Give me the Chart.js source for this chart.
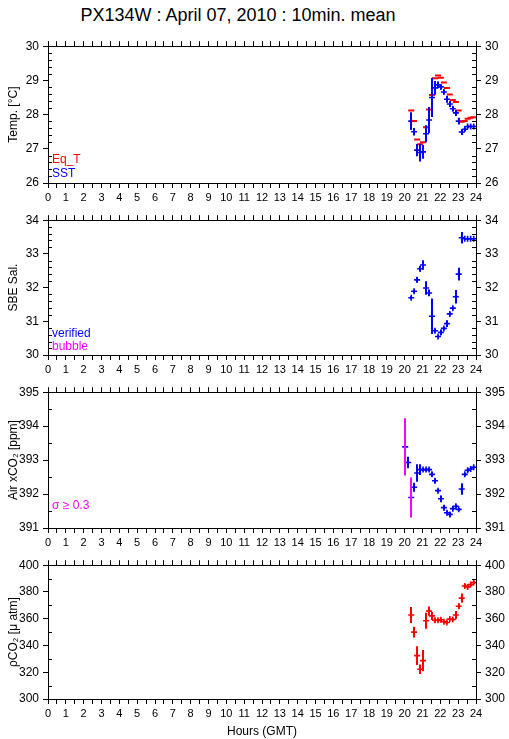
<!DOCTYPE html>
<html lang="en">
<head>
<meta charset="UTF-8">
<title>PX134W</title>
<style>
  body { margin: 0; background: #fff; width: 509px; height: 739px; position: relative; overflow: hidden; }
  #title { position: absolute; top: 5px; left: 0; width: 476px; text-align: center;
           font: 18px "Liberation Sans", Arial, sans-serif; color: #000; }
  canvas { position: absolute; left: 0; }
</style>
</head>
<body>
<div id="title">PX134W : April 07, 2010 : 10min. mean</div>
<canvas id="c1" width="509" height="174" style="top:35px"></canvas>
<canvas id="c2" width="509" height="172" style="top:209px"></canvas>
<canvas id="c3" width="509" height="173" style="top:381px"></canvas>
<canvas id="c4" width="509" height="185" style="top:554px"></canvas>
<script src="https://cdn.jsdelivr.net/npm/chart.js"></script>
<script>
// hours (GMT), 10 min steps
const timesSea = [20.37, 20.53, 20.7, 20.87, 21.03, 21.2, 21.37, 21.53, 21.7, 21.87, 22.03,
                  22.2, 22.37, 22.53, 22.7, 22.87, 23.03, 23.2, 23.37, 23.53, 23.7, 23.87]
const timesAir = [20.03, 20.2, 20.37, 20.53, 20.7, 20.87, 21.03, 21.2, 21.37, 21.53, 21.7, 21.87,
                  22.03, 22.2, 22.37, 22.53, 22.7, 22.87, 23.03, 23.2, 23.37, 23.53, 23.7, 23.87]

const eqT    = [28.12, 27.81, 27.27, 27.13, 27.19, 27.63, 28.15, 28.57, 29.06, 29.14, 29.08,
                28.94, 28.78, 28.59, 28.43, 28.37, 28.12, 27.79, 27.81, 27.88, 27.91, 27.92]
const sst    = [27.81, 27.50, 26.96, 26.89, 26.91, 27.44, 27.84, 28.50, 28.78, 28.87, 28.81,
                28.66, 28.45, 28.31, 28.17, 28.05, 27.81, 27.49, 27.57, 27.65, 27.65, 27.65]
const sstErr = [0.26, 0.11, 0.18, 0.26, 0.2, 0.25, 0.38, 0.57, 0.2, 0.1, 0.07,
                0.06, 0.1, 0.09, 0.07, 0.08, 0.1, 0.09, 0.05, 0.04, 0.03, 0.03]

const sal    = [31.70, 31.89, 32.23, 32.56, 32.67, 31.99, 31.84, 31.15, 30.72, 30.55, 30.67,
                30.79, 30.93, 31.22, 31.39, 31.73, 32.40, 33.48, 33.45, 33.45, 33.45, 33.45]
const salErr = [0.05, 0.05, 0.08, 0.08, 0.14, 0.2, 0.1, 0.53, 0.06, 0.03, 0.08,
                0.04, 0.1, 0.05, 0.04, 0.2, 0.19, 0.17, 0.02, 0.02, 0.02, 0.02]

const airCO2 = [393.39, 392.93, 391.90, 392.20, 392.62, 392.72, 392.72, 392.72, 392.72, 392.58, 392.39, 392.10,
                391.86, 391.60, 391.45, 391.40, 391.57, 391.64, 391.55, 392.15, 392.58, 392.70, 392.74, 392.79]
const airErr = [0.84, 0.17, 0.59, 0.13, 0.26, 0.16, 0.05, 0.05, 0.05, 0.06, 0.07, 0.05,
                0.1, 0.08, 0.06, 0.07, 0.05, 0.05, 0.04, 0.17, 0.05, 0.04, 0.03, 0.03]

const pco2    = [362.8, 350.0, 332.4, 322.2, 328.7, 358.5, 365.7, 362.1, 358.9, 358.9, 359.2,
                 357.7, 357.2, 359.7, 359.4, 362.8, 369.3, 375.4, 384.5, 383.8, 385.5, 387.0]
const pco2Err = [6, 4, 7, 3.5, 8, 6, 3.5, 3, 1.5, 1, 1, 1, 1, 1, 1, 3, 2, 3.5, 1.5, 1, 1, 1]

const RED = '#ff0000', BLUE = '#0000ff', MAGENTA = '#ff00ff'
const FONT = '"Liberation Sans", Arial, sans-serif'

Chart.defaults.font.family = FONT
Chart.defaults.color = '#000'

function pts(xs, ys) {
    return xs.map((x, i) => ({ x: x, y: ys[i] }))
}

// error bars, minor ticks and the little in-plot labels
const extras = {
    id: 'extras',
    afterDatasetsDraw(chart) {
        const ctx = chart.ctx
        const sx = chart.scales.x, sy = chart.scales.y
        ctx.save()
        ctx.lineWidth = 2
        chart.data.datasets.forEach(ds => {
            if (!ds.err) return
            ds.data.forEach((p, j) => {
                const e = ds.err[j]
                const px = Math.round(sx.getPixelForValue(p.x))
                ctx.strokeStyle = ds.errColor ? ds.errColor(e) : ds.borderColor
                ctx.beginPath()
                ctx.moveTo(px, sy.getPixelForValue(p.y - e))
                ctx.lineTo(px, sy.getPixelForValue(p.y + e))
                ctx.stroke()
            })
        })
        ctx.restore()
    },
    afterDraw(chart, args, opts) {
        const ctx = chart.ctx
        const sy = chart.scales.y
        const a = chart.chartArea
        ctx.save()
        ctx.strokeStyle = '#000'
        ctx.lineWidth = 1
        const n = Math.round((sy.max - sy.min) / opts.minor)
        for (let k = 1; k < n; k++) {
            const v = sy.min + k * opts.minor
            if (Math.abs(v / opts.major - Math.round(v / opts.major)) < 1e-6) continue
            const py = Math.round(sy.getPixelForValue(v)) + 0.5
            ctx.beginPath()
            ctx.moveTo(a.left, py); ctx.lineTo(a.left + 4, py)
            ctx.moveTo(a.right, py); ctx.lineTo(a.right - 4, py)
            ctx.stroke()
        }
        ctx.font = '12px ' + FONT
        ctx.textBaseline = 'alphabetic'
        ctx.textAlign = 'left'
        ;(opts.notes || []).forEach(nt => {
            ctx.fillStyle = nt.color
            ctx.fillText(nt.text, a.left + 4, a.bottom - nt.dy)
        })
        ctx.restore()
    }
}

function makePanel(id, opt) {
    const xCommon = {
        type: 'linear', min: 0, max: 24,
        grid: { drawOnChartArea: false, drawTicks: true, tickLength: 5, color: '#000' },
        border: { color: '#000', width: 1 }
    }
    const yTicks = { stepSize: opt.major, font: { size: 12 }, color: '#000', padding: 4 }
    const yGrid = { drawOnChartArea: false, drawTicks: true, tickLength: 5, color: '#000' }
    return new Chart(document.getElementById(id), {
        type: 'scatter',
        data: { datasets: opt.datasets },
        options: {
            responsive: false,
            animation: false,
            devicePixelRatio: 1,
            layout: { padding: 0 },
            plugins: {
                legend: { display: false },
                tooltip: { enabled: false },
                extras: { minor: opt.minor, major: opt.major, notes: opt.notes }
            },
            scales: {
                x: Object.assign({}, xCommon, {
                    position: 'bottom',
                    ticks: { stepSize: 0.5, autoSkip: false, maxRotation: 0, font: { size: 11 }, color: '#000', padding: 3,
                             callback: v => Number.isInteger(v) ? String(v) : '' },
                    title: { display: !!opt.xTitle, text: opt.xTitle || '', font: { size: 12 }, color: '#000', padding: { top: 1, bottom: 0 } },
                    afterFit: s => { s.height = opt.bottomPad }
                }),
                xt: Object.assign({}, xCommon, {
                    position: 'top',
                    ticks: { stepSize: 0.5, autoSkip: false, display: false },
                    afterFit: s => { s.height = 7 }
                }),
                y: {
                    min: opt.min, max: opt.max, position: 'left',
                    ticks: yTicks, grid: yGrid,
                    border: { color: '#000', width: 1 },
                    title: { display: true, text: opt.yTitle, font: { size: 12 }, color: '#000', padding: { top: 6, bottom: 0 } },
                    afterFit: s => { s.width = 48 }
                },
                y2: {
                    min: opt.min, max: opt.max, position: 'right',
                    ticks: yTicks, grid: yGrid,
                    border: { color: '#000', width: 1 },
                    afterFit: s => { s.width = 33 }
                }
            }
        },
        plugins: [extras]
    })
}

const dash = c => ({ pointStyle: 'line', radius: 3, borderWidth: 2, borderColor: c, backgroundColor: c, showLine: false })
const cross = c => ({ pointStyle: 'cross', radius: 3, borderWidth: 1.6, borderColor: c, backgroundColor: c, showLine: false })

makePanel('c1', {
    min: 26, max: 30, major: 1, minor: 0.2, bottomPad: 26, yTitle: 'Temp. [°C]',
    notes: [{ text: 'Eq_T', color: RED, dy: 20 }, { text: 'SST', color: BLUE, dy: 6 }],
    datasets: [
        Object.assign({ label: 'Eq_T', data: pts(timesSea, eqT) }, dash(RED)),
        Object.assign({ label: 'SST', data: pts(timesSea, sst), err: sstErr }, cross(BLUE))
    ]
})

makePanel('c2', {
    min: 30, max: 34, major: 1, minor: 0.2, bottomPad: 26, yTitle: 'SBE Sal.',
    notes: [{ text: 'verified', color: BLUE, dy: 18 }, { text: 'bubble', color: MAGENTA, dy: 5 }],
    datasets: [
        Object.assign({ label: 'Salinity', data: pts(timesSea, sal), err: salErr }, cross(BLUE))
    ]
})

makePanel('c3', {
    min: 391, max: 395, major: 1, minor: 0.5, bottomPad: 26, yTitle: 'Air xCO₂ [ppm]',
    notes: [{ text: 'σ ≥ 0.3', color: MAGENTA, dy: 19 }],
    datasets: [
        Object.assign({ label: 'Air xCO2', data: pts(timesAir, airCO2), err: airErr,
                        errColor: e => e >= 0.3 ? MAGENTA : BLUE }, cross(BLUE))
    ]
})

makePanel('c4', {
    min: 300, max: 400, major: 20, minor: 10, bottomPad: 40, yTitle: 'ρCO₂ [μ atm]', xTitle: 'Hours (GMT)',
    notes: [],
    datasets: [
        Object.assign({ label: 'pCO2', data: pts(timesSea, pco2), err: pco2Err }, cross(RED))
    ]
})
</script>
</body>
</html>
